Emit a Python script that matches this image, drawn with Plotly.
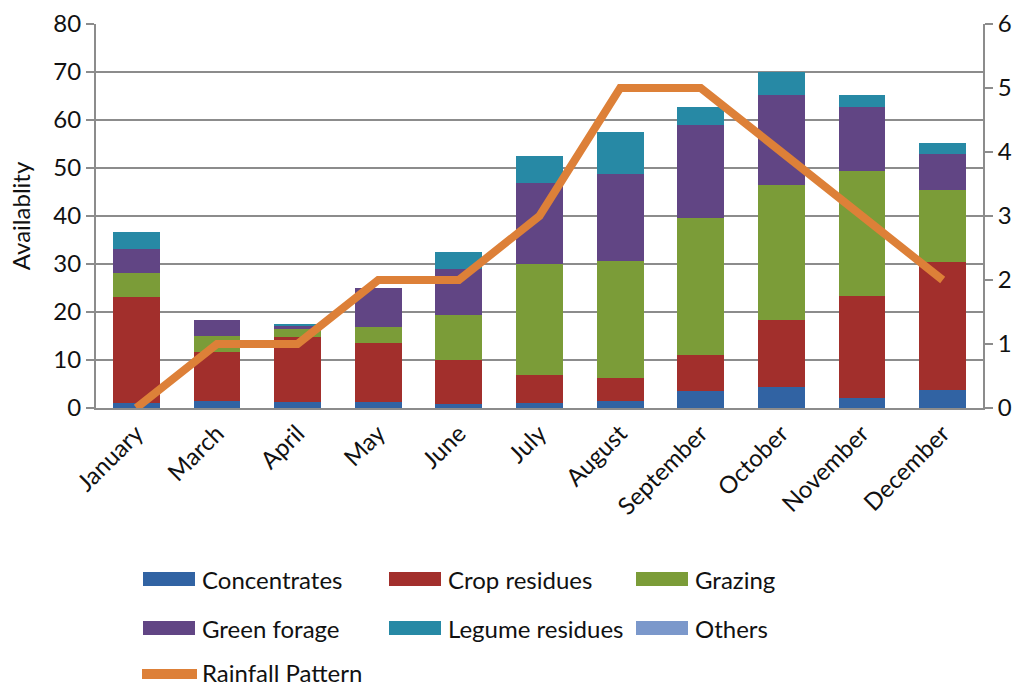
import plotly.graph_objects as go

months = ["January", "March", "April", "May", "June", "July", "August",
          "September", "October", "November", "December"]

concentrates = [1.0, 1.5, 1.3, 1.3, 0.8, 1.1, 1.5, 3.5, 4.4, 2.1, 3.8]
crop_residues = [22.2, 10.2, 13.4, 12.3, 9.3, 5.8, 4.75, 7.5, 13.9, 21.3, 26.7]
grazing = [5.0, 3.2, 1.7, 3.3, 9.3, 23.0, 24.4, 28.6, 28.2, 26.0, 14.9]
green_forage = [4.9, 3.5, 0.8, 8.2, 9.5, 17.0, 18.2, 19.4, 18.7, 13.3, 7.6]
legume_residues = [3.6, 0.0, 0.3, 0.0, 3.6, 5.6, 8.7, 3.7, 4.9, 2.5, 2.2]
others = [0, 0, 0, 0, 0, 0, 0, 0, 0, 0, 0]
rainfall = [0, 1, 1, 2, 2, 3, 5, 5, 4, 3, 2]

series = [
    ("Concentrates", concentrates, "#3163a3"),
    ("Crop residues", crop_residues, "#a22f2c"),
    ("Grazing", grazing, "#7b9c38"),
    ("Green forage", green_forage, "#614584"),
    ("Legume residues", legume_residues, "#2789a5"),
    ("Others", others, "#7b98cb"),
]
rain_name, rain_color = "Rainfall Pattern", "#dd8038"

font = "Lato, 'Open Sans', sans-serif"
fsize = 24
grid = "#8c8c8c"

W, H = 1026, 686
ML, MR, MT, MB = 96, 43, 24, 278
PW, PH = W - ML - MR, H - MT - MB


def px_to_paper(x, y):
    return (x - ML) / PW, (H - MB - y) / PH


fig = go.Figure()
for name, vals, color in series:
    fig.add_trace(go.Bar(x=months, y=vals, name=name, showlegend=False,
                         marker=dict(color=color, line=dict(width=0))))

fig.add_trace(go.Scatter(x=months, y=rainfall, name=rain_name,
                         mode="lines", yaxis="y2", showlegend=False,
                         line=dict(color=rain_color, width=8)))

# Legend drawn as swatches + labels in a 3-column grid below the chart
shapes, annotations = [], []
col_x = [143, 389, 636]
row_y = [579, 628, 672]
entries = [(n, c, "bar") for n, _, c in series] + [(rain_name, rain_color, "line")]
for i, (name, color, kind) in enumerate(entries):
    cx, cy = col_x[i % 3], row_y[i // 3]
    if kind == "bar":
        x0, y0 = px_to_paper(cx, cy - 7)
        x1, y1 = px_to_paper(cx + 52, cy + 7)
        shapes.append(dict(type="rect", xref="paper", yref="paper",
                           x0=x0, x1=x1, y0=y1, y1=y0,
                           fillcolor=color, line=dict(width=0)))
    else:
        x0, y0 = px_to_paper(cx - 1, cy + 2)
        x1, _ = px_to_paper(cx + 54, cy + 2)
        shapes.append(dict(type="line", xref="paper", yref="paper",
                           x0=x0, x1=x1, y0=y0, y1=y0,
                           line=dict(color=color, width=10)))
    tx, ty = px_to_paper(cx + 57, cy)
    annotations.append(dict(text=name, xref="paper", yref="paper",
                            x=tx, y=ty, xanchor="left", yanchor="middle",
                            showarrow=False,
                            font=dict(family=font, size=fsize, color="#111")))

fig.update_layout(
    width=W, height=H,
    margin=dict(l=ML, r=MR, t=MT, b=MB, autoexpand=False),
    paper_bgcolor="white", plot_bgcolor="white",
    barmode="stack", bargap=0.42,
    font=dict(family=font, size=fsize, color="#111"),
    xaxis=dict(tickangle=-45, showgrid=False, showline=True,
               linecolor=grid, linewidth=2, ticks="",
               tickfont=dict(size=fsize)),
    yaxis=dict(range=[0, 80], dtick=10, showgrid=True, gridcolor=grid,
               gridwidth=2, showline=True, linecolor=grid, linewidth=2,
               ticks="outside", ticklen=8, tickcolor=grid, tickwidth=2,
               zeroline=False, tickfont=dict(size=fsize),
               title=dict(text="Availablity", font=dict(size=fsize),
                          standoff=16)),
    yaxis2=dict(range=[0, 6], dtick=1, overlaying="y", side="right",
                showgrid=False, showline=True, linecolor=grid, linewidth=2,
                ticks="outside", ticklen=8, tickcolor=grid, tickwidth=2,
                zeroline=False, tickfont=dict(size=fsize)),
    shapes=shapes,
    annotations=annotations,
    showlegend=False,
)

fig.write_html("out.html")
